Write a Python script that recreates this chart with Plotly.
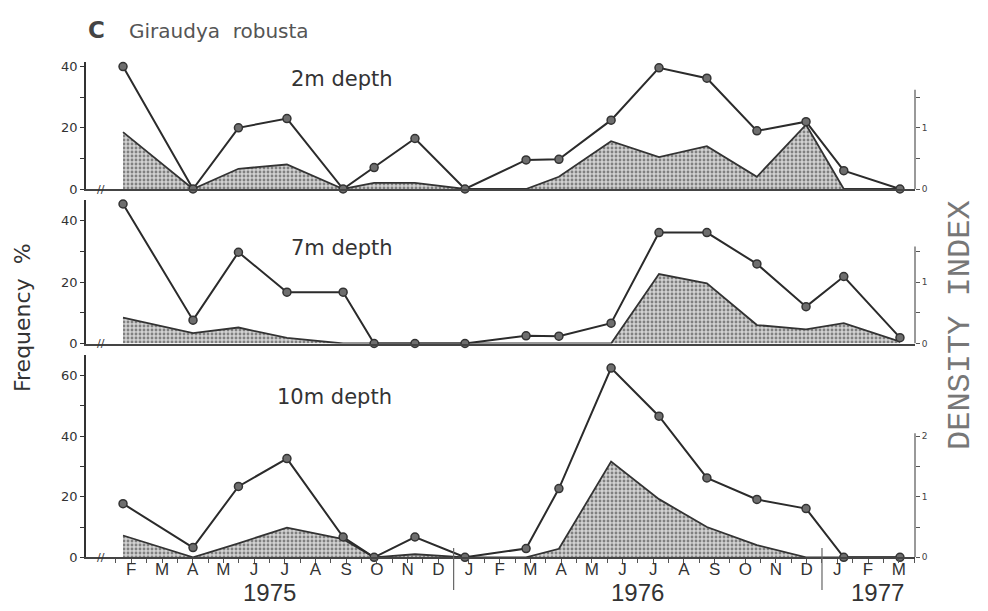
import plotly.graph_objects as go

# ---------------- data ----------------
month_labels = ["F", "M", "A", "M", "J", "J", "A", "S", "O", "N", "D",
                "J", "F", "M", "A", "M", "J", "J", "A", "S", "O", "N", "D",
                "J", "F", "M"]
month_ticks = list(range(1, 27))          # months since Jan 1975 (Feb 1975 = 1)
year_labels = ["1975", "1976", "1977"]

# sampling dates, in months since Jan 1975
sample_month = [0.73, 3.01, 4.49, 6.07, 7.90, 8.91, 10.24, 11.87, 13.86,
                14.93, 16.63, 18.19, 19.75, 21.38, 22.98, 24.21, 26.04]

depth_labels = ["2m depth", "7m depth", "10m depth"]

freq_2m = [40, 0, 20, 23, 0, 7, 16.5, 0, 9.5, 9.7, 22.5, 39.6, 36.2, 19, 22, 6, 0]
dens_2m = [0.93, 0, 0.33, 0.4, 0, 0.1, 0.1, 0, 0, 0.2, 0.78, 0.52, 0.7, 0.2, 1.05, 0, 0]

freq_7m = [45.4, 7.6, 29.7, 16.7, 16.7, 0, 0, 0, 2.5, 2.4, 6.6, 36.1, 36.1, 25.9, 12, 21.8, 1.9]
dens_7m = [0.42, 0.17, 0.26, 0.09, 0, 0, 0, 0, 0, 0, 0, 1.13, 0.98, 0.3, 0.23, 0.33, 0.03]

freq_10m = [17.7, 3.2, 23.4, 32.6, 6.7, 0, 6.7, 0, 2.9, 22.7, 62.5, 46.6, 26.2, 19.1, 16.1, 0, 0]
dens_10m = [0.36, 0, 0.23, 0.49, 0.3, 0, 0.05, 0, 0, 0.14, 1.58, 0.96, 0.5, 0.2, 0, 0, 0]

freq_series = [freq_2m, freq_7m, freq_10m]
dens_series = [dens_2m, dens_7m, dens_10m]

# ---------------- layout helpers ----------------
W, H = 988, 611
L, R = 86, 73
X_RANGE = [-0.476, 26.53]
year_centres = [5.5, 17.5, 25.3]
year_breaks = [11.5, 23.5]

def pf(p):
    return 1 - p / H

def px(p):
    return (p - L) / (W - L - R)

# (zero pixel, top pixel, freq top value, right-axis line top, freq ticks, density ticks)
panels = [
    (189.0, 62.0, 41.5, 1.62, [0, 10, 20, 30, 40], [0, 0.5, 1, 1.5]),
    (343.5, 200.0, 46.7, 1.58, [0, 10, 20, 30, 40], [0, 0.5, 1, 1.5]),
    (557.3, 355.0, 66.8, 2.05, [0, 10, 20, 30, 40, 50, 60], [0, 0.5, 1, 1.5, 2]),
]
label_pos = [(342, 79), (342, 248), (334, 397)]

INK = "#2b2b2b"
fig = go.Figure()
layout = dict(
    width=W, height=H, template="none",
    paper_bgcolor="white", plot_bgcolor="white",
    margin=dict(l=L, r=R, t=0, b=0, pad=0),
    showlegend=False,
    font=dict(family="DejaVu Sans", color=INK),
)
shapes = []
annotations = []

def ann(**kw):
    kw.setdefault("showarrow", False)
    kw.setdefault("xanchor", "center")
    kw.setdefault("yanchor", "middle")
    annotations.append(kw)

for i, (zero_p, top_p, ftop, rtop, fticks, dticks) in enumerate(panels):
    xname = "x" if i == 0 else f"x{i+1}"
    xkey = "xaxis" if i == 0 else f"xaxis{i+1}"
    dname = "y" if i == 0 else f"y{2*i+1}"
    dkey = "yaxis" if i == 0 else f"yaxis{2*i+1}"
    fname = f"y{2*i+2}"
    fkey = f"yaxis{2*i+2}"
    dom = [pf(zero_p), pf(top_p)]

    # density index (shaded) on base axis (right side)
    fig.add_trace(go.Scatter(
        x=sample_month, y=dens_series[i], xaxis=xname, yaxis=dname,
        mode="lines", line=dict(color="#333", width=1.8),
        fill="tozeroy", fillcolor="#c8c8c8",
        fillpattern=dict(shape=".", fgcolor="#808080", bgcolor="#d2d2d2",
                         size=4, solidity=0.4),
        hoverinfo="skip"))
    # frequency % (line + markers) on overlaying axis (left side)
    fig.add_trace(go.Scatter(
        x=sample_month, y=freq_series[i], xaxis=xname, yaxis=fname,
        mode="lines+markers", cliponaxis=False,
        line=dict(color=INK, width=2),
        marker=dict(size=8, color="#6e6e6e", line=dict(color="#333", width=1.5))))

    bottom = (i == 2)
    layout[xkey] = dict(
        domain=[0, 1], range=X_RANGE, anchor=dname,
        showline=True, linecolor="#444", linewidth=1.5, mirror=False,
        showgrid=False, zeroline=False, automargin=False,
        tickmode="array", tickvals=month_ticks,
        ticktext=month_labels if bottom else [""] * len(month_ticks),
        showticklabels=bottom,
        ticks="outside" if bottom else "", ticklen=4, tickcolor="#555",
        ticklabelstandoff=-8,
        tickfont=dict(family="Liberation Sans", size=17, color="#333"),
    )
    if bottom:
        layout[xkey]["minor"] = dict(tick0=0.5, dtick=1, ticks="outside",
                                     ticklen=4, tickcolor="#555")
    layout[dkey] = dict(
        domain=dom, range=[0, ftop / 20], anchor=xname, side="right",
        showline=False, showgrid=False, zeroline=False, automargin=False,
        tickmode="array", tickvals=dticks,
        ticktext=[("%g" % v) if v == int(v) else "" for v in dticks],
        ticks="outside", ticklen=4, tickcolor="#555",
        tickfont=dict(size=9, color="#444"),
    )
    layout[fkey] = dict(
        overlaying=dname, range=[0, ftop], anchor=xname, side="left",
        showline=True, linecolor="#333", linewidth=1.5,
        showgrid=False, zeroline=False, automargin=False,
        tickmode="array", tickvals=fticks,
        ticktext=[str(v) if v % 20 == 0 else "" for v in fticks],
        ticks="outside", ticklen=4, tickcolor="#333",
        tickfont=dict(size=13, color="#333"),
    )
    # right density axis line (short)
    shapes.append(dict(type="line", xref="paper", yref=dname, x0=1, x1=1,
                       y0=0, y1=rtop, line=dict(color="#555", width=1.2)))
    # axis break marks
    ann(xref="paper", yref=fname, x=px(101), y=0, text="//",
        font=dict(size=11, color="#333"))
    # depth labels
    lx, ly = label_pos[i]
    ann(xref="paper", yref="paper", x=px(lx), y=pf(ly), text=depth_labels[i],
        font=dict(size=21, color="#333"))

# year separators and labels
for b in year_breaks:
    shapes.append(dict(type="line", xref="x3", yref="paper", x0=b, x1=b,
                       y0=pf(548), y1=pf(590), line=dict(color="#666", width=1.2)))
for yl, yc in zip(year_labels, year_centres):
    ann(xref="x3", yref="paper", x=yc, y=pf(592), text=yl,
        font=dict(family="Liberation Sans", size=24, color="#333"))

# titles
ann(xref="paper", yref="paper", x=px(86), y=pf(30), xanchor="left",
    text="<b>C</b>", font=dict(size=23, color="#444"))
ann(xref="paper", yref="paper", x=px(127), y=pf(31), xanchor="left",
    text="Giraudya&nbsp;&nbsp;robusta", font=dict(size=20, color="#555"))
ann(xref="paper", yref="paper", x=px(22), y=pf(318), textangle=-90,
    text="Frequency&nbsp;&nbsp;%", font=dict(size=22, color="#333"))
ann(xref="paper", yref="paper", x=px(960), y=pf(325), textangle=-90,
    text="DENSITY INDEX", font=dict(family="Liberation Mono", size=32, color="#777"))

layout["shapes"] = shapes
layout["annotations"] = annotations
fig.update_layout(**layout)
fig.write_html("out.html")
